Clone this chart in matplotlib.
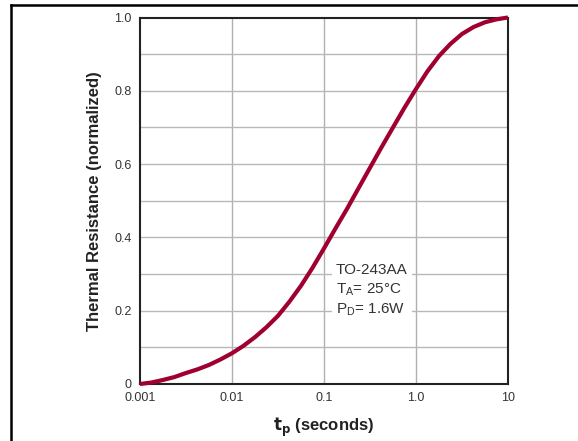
import matplotlib
matplotlib.use('Agg')
import matplotlib.pyplot as plt
from matplotlib.lines import Line2D

plt.rcParams['font.family'] = ['Liberation Sans', 'DejaVu Sans']

# pulse width (s) and normalized thermal resistance
tp = [0.001, 0.00133, 0.00178, 0.00237, 0.00316, 0.00422, 0.00562, 0.0075,
      0.01, 0.0133, 0.0178, 0.0237, 0.0316, 0.0422, 0.0562, 0.075,
      0.1, 0.133, 0.178, 0.237, 0.316, 0.422, 0.562, 0.75,
      1.0, 1.33, 1.78, 2.37, 3.16, 4.22, 5.62, 7.5, 10.0]
r_norm = [0.0, 0.004, 0.011, 0.019, 0.030, 0.040, 0.052, 0.067,
          0.084, 0.104, 0.128, 0.155, 0.186, 0.225, 0.268, 0.317,
          0.370, 0.424, 0.478, 0.534, 0.590, 0.646, 0.700, 0.754,
          0.805, 0.853, 0.895, 0.928, 0.955, 0.974, 0.987, 0.995, 1.0]

x_ticks = [0.001, 0.01, 0.1, 1.0, 10]
x_labels = ['0.001', '0.01', '0.1', '1.0', '10']
y_ticks = [0, 0.2, 0.4, 0.6, 0.8, 1.0]
y_labels = ['0', '0.2', '0.4', '0.6', '0.8', '1.0']
y_grid = [0.1, 0.2, 0.3, 0.4, 0.5, 0.6, 0.7, 0.8, 0.9]

fig = plt.figure(figsize=(5.78, 4.41), dpi=100)
ax = fig.add_axes([140/578, 57/441, 368/578, 366.5/441])

ax.set_xscale('log')
ax.set_xlim(0.001, 10)
ax.set_ylim(0, 1.0)

# grid
for g in x_ticks[1:-1]:
    ax.axvline(g, color='#b0b0b0', lw=1.0, zorder=1)
for g in y_grid:
    ax.axhline(g, color='#b8b8b8', lw=1.0, zorder=1)

ax.plot(tp, r_norm, color='#a00030', lw=3.0, solid_capstyle='butt',
        solid_joinstyle='round', zorder=3, clip_on=False)

ax.set_xticks(x_ticks)
ax.set_xticklabels(x_labels)
ax.set_yticks(y_ticks)
ax.set_yticklabels(y_labels)
ax.minorticks_off()
ax.tick_params(length=0, labelsize=9, labelcolor='#333333')
ax.tick_params(axis='x', pad=6)
ax.tick_params(axis='y', pad=6)

for s in ax.spines.values():
    s.set_linewidth(1.5)
    s.set_color('#222222')

ax.set_xlabel(r'$\mathbf{t}_{\mathbf{p}}$ (seconds)', fontsize=12, fontweight='bold',
              color='#222222', labelpad=8)
ax.set_ylabel('Thermal Resistance (normalized)', fontsize=12, fontweight='bold',
              color='#222222', labelpad=9)

# annotation
ax.text(0.135, 0.255, 'TO-243AA\n$\\mathregular{T_A}$= 25°C\n$\\mathregular{P_D}$= 1.6W',
        fontsize=11, color='#333333', ha='left', va='center', linespacing=1.35,
        zorder=4, bbox=dict(facecolor='white', edgecolor='none', pad=3))

# page frame
fig.add_artist(Line2D([11/578, 11/578], [0, 1 - 5/441], color='black', lw=1.8,
                      transform=fig.transFigure))
fig.add_artist(Line2D([11/578, 1], [1 - 5/441, 1 - 5/441], color='black', lw=1.8,
                      transform=fig.transFigure))

fig.savefig('out.png', dpi=100)
